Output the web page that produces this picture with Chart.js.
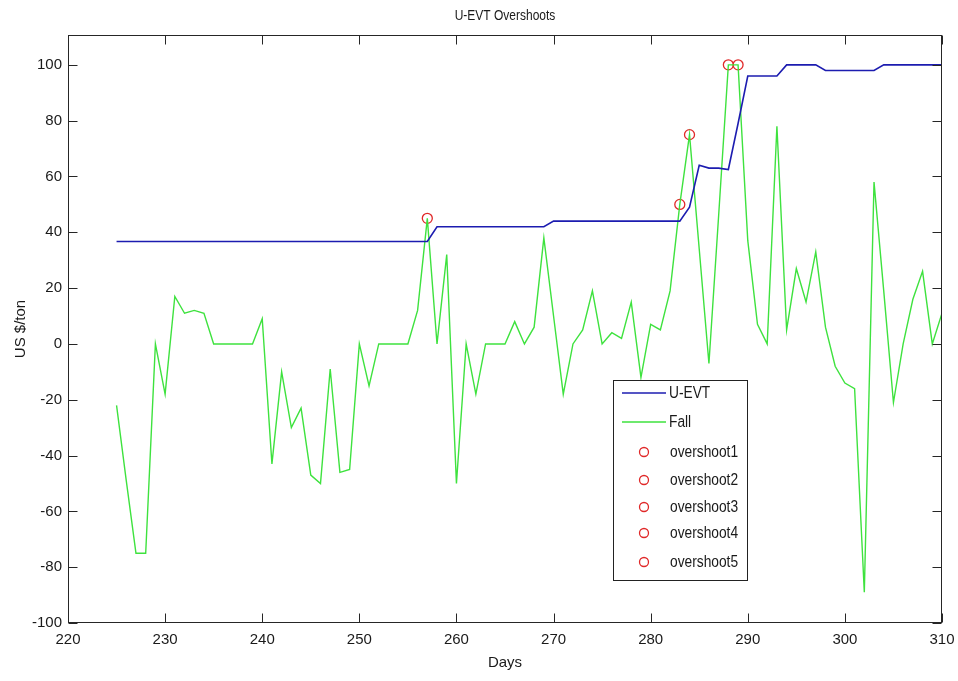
<!DOCTYPE html>
<html>
<head>
<meta charset="utf-8">
<script src="https://cdn.jsdelivr.net/npm/chart.js@4/dist/chart.umd.min.js"></script>
<style>
html,body{margin:0;padding:0;background:#fff;}
#wrap{width:958px;height:681px;}
</style>
</head>
<body>
<div id="wrap"><canvas id="c" width="958" height="681"></canvas></div>
<script>
const days = [225,226,227,228,229,230,231,232,233,234,235,236,237,238,239,240,241,242,243,244,245,246,247,248,249,250,251,252,253,254,255,256,257,258,259,260,261,262,263,264,265,266,267,268,269,270,271,272,273,274,275,276,277,278,279,280,281,282,283,284,285,286,287,288,289,290,291,292,293,294,295,296,297,298,299,300,301,302,303,304,305,306,307,308,309,310];

const uevt = [36.7,36.7,36.7,36.7,36.7,36.7,36.7,36.7,36.7,36.7,36.7,36.7,36.7,36.7,36.7,36.7,36.7,36.7,36.7,36.7,36.7,36.7,36.7,36.7,36.7,36.7,36.7,36.7,36.7,36.7,36.7,36.7,36.7,
  42,42,42,42,42,42,42,42,42,42,42,42,
  44,44,44,44,44,44,44,44,44,44,44,44,44,44,
  49,64,63,63,62.5,79,
  96,96,96,96,
  100,100,100,100,
  98,98,98,98,98,98,
  100,100,100,100,100,100,100];

const fall = [-22,-49,-75,-75,0,-18,17,11,12,11,0,0,0,0,0,9,-43,-10,-30,-23,-47,-50,-9,-46,-45,0,-15,0,0,0,0,12,45,0,32,-50,0,-18,0,0,0,8,0,6,38,10,-18,0,5,19,0,4,2,15,-12,7,5,19,50,75,34,-7,46,100,100,37,7,0,78,5,27,15,33,6,-8,-14,-16,-89,58,19,-21,0,16,26,0,11];

const overshootLabels = ['overshoot1','overshoot2','overshoot3','overshoot4','overshoot5'];
const overshootDays = [257,283,284,288,289];
const overshootVals = [45,50,75,100,100];

const xTicks = [220,230,240,250,260,270,280,290,300,310];
const yTicks = [-100,-80,-60,-40,-20,0,20,40,60,80,100];

const FONT = "'Liberation Sans',Arial,sans-serif";
const BLUE = '#1c1cb0';
const GREEN = '#3ee23e';
const RED = '#e02828';
const TXT = '#1a1a1a';

const datasets = [
  {label:'U-EVT', data: days.map((d,i)=>({x:d,y:uevt[i]})), borderColor: BLUE, borderWidth:1.6, pointRadius:0, fill:false, tension:0},
  {label:'Fall', data: days.map((d,i)=>({x:d,y:fall[i]})), borderColor: GREEN, borderWidth:1.4, pointRadius:0, fill:false, tension:0}
];
overshootLabels.forEach((lab,i)=>{
  datasets.push({label:lab, data:[{x:overshootDays[i], y:overshootVals[i]}], showLine:false,
    pointStyle:'circle', pointRadius:5, borderColor:RED, backgroundColor:'rgba(0,0,0,0)', pointBorderWidth:1.3});
});

function narrowText(ctx, text, x, y, sx){
  ctx.save();
  ctx.translate(x, y);
  ctx.scale(sx, 1);
  ctx.fillText(text, 0, 0);
  ctx.restore();
}

const framePlugin = {
  id:'frame',
  afterDraw(chart){
    const {ctx, chartArea:a, scales:{x,y}} = chart;
    ctx.save();
    ctx.strokeStyle = '#262626';
    ctx.lineWidth = 1;
    const L = Math.round(a.left)+0.5, R = Math.round(a.right)-0.5, T = Math.round(a.top)+0.5, B = Math.round(a.bottom)-0.5;
    ctx.strokeRect(L, T, R-L, B-T);
    const tl = 9;
    ctx.beginPath();
    xTicks.forEach(v=>{
      const px = Math.round(x.getPixelForValue(v))+0.5;
      ctx.moveTo(px,B); ctx.lineTo(px,B-tl);
      ctx.moveTo(px,T); ctx.lineTo(px,T+tl);
    });
    yTicks.forEach(v=>{
      const py = Math.round(y.getPixelForValue(v))+0.5;
      ctx.moveTo(L,py); ctx.lineTo(L+tl,py);
      ctx.moveTo(R,py); ctx.lineTo(R-tl,py);
    });
    ctx.stroke();

    // title
    ctx.fillStyle = TXT;
    ctx.font = '15px ' + FONT;
    ctx.textAlign = 'center';
    ctx.textBaseline = 'middle';
    narrowText(ctx, 'U-EVT Overshoots', (a.left+a.right)/2, 16, 0.8);

    // legend box
    const bx = a.left + 545, by = a.top + 345, bw = 134, bh = 200;
    ctx.fillStyle = '#fff';
    ctx.fillRect(bx, by, bw, bh);
    ctx.strokeStyle = '#222';
    ctx.strokeRect(Math.round(bx)+0.5, Math.round(by)+0.5, bw, bh);
    const rows = [13, 42, 72, 100, 127, 153, 182];
    ctx.font = '16px ' + FONT;
    ctx.textAlign = 'left';
    chart.data.datasets.forEach((ds,i)=>{
      const ry = by + rows[i];
      if(i < 2){
        ctx.strokeStyle = ds.borderColor; ctx.lineWidth = 1.6;
        ctx.beginPath(); ctx.moveTo(bx+9, ry); ctx.lineTo(bx+53, ry); ctx.stroke();
        ctx.fillStyle = TXT;
        narrowText(ctx, ds.label, bx+56, ry+1, 0.86);
      } else {
        ctx.strokeStyle = RED; ctx.lineWidth = 1.3;
        ctx.beginPath(); ctx.arc(bx+31, ry, 4.5, 0, Math.PI*2); ctx.stroke();
        ctx.fillStyle = TXT;
        narrowText(ctx, ds.label, bx+57, ry+1, 0.86);
      }
    });
    ctx.restore();
  }
};

new Chart(document.getElementById('c'), {
  type:'line',
  data:{datasets},
  options:{
    responsive:false,
    devicePixelRatio:1,
    animation:false,
    events:[],
    layout:{padding:{left:0,right:16,top:35,bottom:0}},
    plugins:{legend:{display:false}, title:{display:false}, tooltip:{enabled:false}},
    scales:{
      x:{
        type:'linear', min:220, max:310,
        afterBuildTicks(s){ s.ticks = xTicks.map(v=>({value:v})); },
        afterFit(s){ s.height = 58; s.paddingLeft = 0; s.paddingRight = 0; },
        ticks:{font:{family:FONT,size:15}, color:TXT, padding:8, maxRotation:0, autoSkip:false},
        grid:{display:false, drawTicks:false},
        border:{display:false},
        title:{display:true, text:'Days', font:{family:FONT,size:15}, color:TXT, padding:{top:0,bottom:9}}
      },
      y:{
        type:'linear', min:-100, max:110.7,
        afterBuildTicks(s){ s.ticks = yTicks.map(v=>({value:v})); },
        afterFit(s){ s.width = 68; s.paddingTop = 0; s.paddingBottom = 0; },
        ticks:{font:{family:FONT,size:15}, color:TXT, padding:6, autoSkip:false},
        grid:{display:false, drawTicks:false},
        border:{display:false},
        title:{display:true, text:'US $/ton', font:{family:FONT,size:15}, color:TXT, padding:{top:12,bottom:0}}
      }
    }
  },
  plugins:[framePlugin]
});
</script>
</body>
</html>
